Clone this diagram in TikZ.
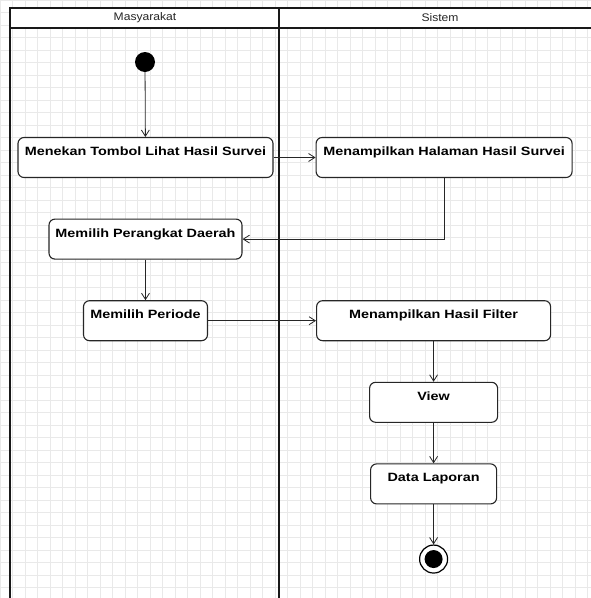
\documentclass[tikz,border=0pt]{standalone}
\usepackage{fontspec}
\setmainfont{Liberation Sans}
\newfontfamily\boxfont{Liberation Sans}[FakeStretch=1.2]
\newfontfamily\lanefont{Liberation Sans}[FakeStretch=1.1]
\usepackage{tikz}
\usetikzlibrary{positioning,arrows.meta}

\begin{document}
\begin{tikzpicture}[
        x=1pt, y=-1pt,
        node distance=40.5pt,
        every node/.style={align=center},
        box/.style={rectangle, rounded corners=6pt, draw=black!85, line width=1.1pt, fill=white,
            minimum height=40pt, inner sep=3pt, text height=9pt, text depth=13pt,
            font=\boxfont\fontsize{12}{14}\selectfont\bfseries},
        arrow/.style={-{Straight Barb[length=2.2mm,width=2.8mm]}, line width=0.8pt, draw=black!85},
        lane/.style={line width=1.6pt, black!90},
        lanetitle/.style={font=\lanefont\fontsize{11}{13}\selectfont, text=black!85}
    ]
    % Background grid and bounding box
    \useasboundingbox (0,0) rectangle (591,598);
    \draw[gray!17, line width=0.4pt, step=12.5pt] (0,0) grid (591,598);
    \fill[white] (10,8) rectangle (591,28);
    % Swimlanes
    \draw[lane] (591,8) -- (10,8) -- (10,598);
    \draw[lane] (10,28) -- (591,28);
    \draw[lane] (279,8) -- (279,598);
    \node[lanetitle] (lane1) at (145,18) {Masyarakat};
    \node[lanetitle] (lane2) at (440,18) {Sistem};
    % Nodes
    \node[circle, fill=black, minimum size=20pt, inner sep=0pt] (start) at (145,62) {};
    \node[box, minimum width=255pt] (press) at (145.5,157.5) {Menekan Tombol Lihat Hasil Survei};
    \node[box, minimum width=256pt, right=42pt of press] (show) {Menampilkan Halaman Hasil Survei};
    \node[box, minimum width=193pt, below=of press] (pick) {Memilih Perangkat Daerah};
    \node[box, minimum width=124pt, below=of pick] (period) {Memilih Periode};
    \node[box, minimum width=234pt, right=108pt of period] (filter) {Menampilkan Hasil Filter};
    \node[box, minimum width=128pt, below=of filter] (view) {View};
    \node[box, minimum width=126pt, below=of view] (report) {Data Laporan};
    \node[circle, draw=black, line width=1.2pt, fill=white, minimum size=28pt, inner sep=0pt,
        below=40pt of report] (end) {};
    \fill[black] (end.center) circle (9pt);
    % Arrows
    \draw[arrow] (start) -- (press);
    \draw[arrow] (press) -- (show);
    \draw[arrow] (show.south) |- (pick.east);
    \draw[arrow] (pick) -- (period);
    \draw[arrow] (period) -- (filter);
    \draw[arrow] (filter) -- (view);
    \draw[arrow] (view) -- (report);
    \draw[arrow] (report) -- (end);
\end{tikzpicture}
\end{document}
